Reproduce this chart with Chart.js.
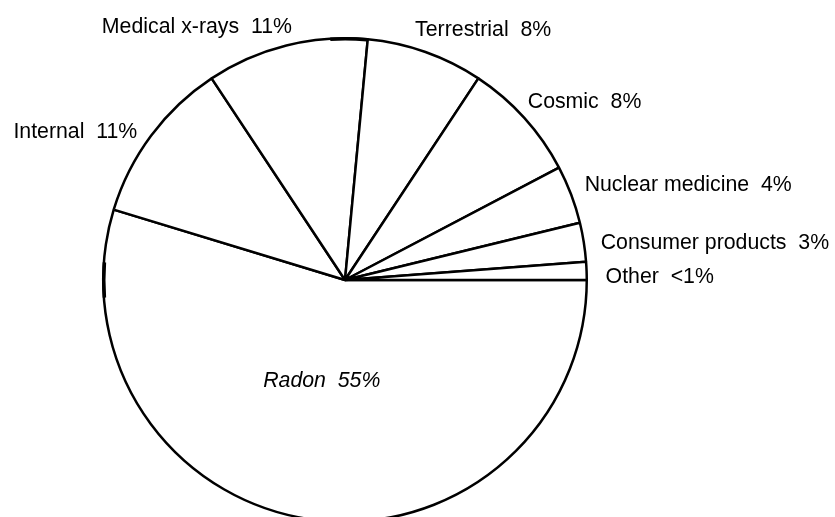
<!DOCTYPE html>
<html>
<head>
<meta charset="utf-8">
<script src="https://cdn.jsdelivr.net/npm/chart.js@4/dist/chart.umd.min.js"></script>
<style>
    html, body { margin: 0; padding: 0; background: #fff; overflow: hidden; }
    #wrap { width: 835px; height: 517px; overflow: hidden; }
</style>
</head>
<body>
<div id="wrap"><canvas id="chartDose" width="835" height="530"></canvas></div>
<script>
// sources of radiation exposure, clockwise from 3 o'clock
const categories = ["Radon", "Internal", "Medical x-rays", "Terrestrial", "Cosmic", "Nuclear medicine", "Consumer products", "Other"];
const shares = [54.7, 11.0, 10.8, 7.8, 8.0, 3.9, 2.6, 1.2];
const shareLabels = ["55%", "11%", "11%", "8%", "8%", "4%", "3%", "<1%"];

(() => {
    // label placement: side, nudge from the anchor just outside the arc
    const labelPos = [
        { inside: true, align: "center", dx: -9, dy: 11 },
        { align: "right", dx: -7.5, dy: 7.5 },
        { align: "right", dx: 7.6, dy: -4.5 },
        { align: "left", dx: -13, dy: -8 },
        { align: "left", dx: -2.5, dy: -4.5 },
        { align: "left", dx: 6, dy: -0.7 },
        { align: "left", dx: 9, dy: 8 },
        { align: "left", dx: 11, dy: 12.4 }
    ];

    const sliceLabels = {
        id: "sliceLabels",
        afterDatasetsDraw(chart) {
            const ctx = chart.ctx;
            const arcs = chart.getDatasetMeta(0).data;
            ctx.save();

            // small thick strokes on the rim, as in the original drawing
            const a0 = arcs[0].getProps(["x", "y", "outerRadius"], true);
            ctx.strokeStyle = "#000";
            ctx.lineWidth = 3.5;
            ctx.beginPath();
            ctx.arc(a0.x, a0.y, a0.outerRadius - 0.5, -93.5 * Math.PI / 180, -84.8 * Math.PI / 180);
            ctx.stroke();
            ctx.beginPath();
            ctx.arc(a0.x, a0.y, a0.outerRadius - 0.5, 175.8 * Math.PI / 180, 184.2 * Math.PI / 180);
            ctx.stroke();

            ctx.fillStyle = "#000";
            ctx.textBaseline = "alphabetic";
            arcs.forEach((arc, i) => {
                const { x, y, startAngle, endAngle, outerRadius } = arc.getProps(["x", "y", "startAngle", "endAngle", "outerRadius"], true);
                const mid = (startAngle + endAngle) / 2;
                const p = labelPos[i];
                const r = p.inside ? outerRadius * 0.4 : outerRadius + 8;
                const ax = x + Math.cos(mid) * r + p.dx;
                const ay = y + Math.sin(mid) * r + p.dy;
                ctx.font = (p.inside ? "italic " : "") + "21.3px 'Liberation Sans', Arial, sans-serif";
                ctx.textAlign = p.align;
                ctx.fillText(categories[i] + "  " + shareLabels[i], ax, ay);
            });
            ctx.restore();
        }
    };

    new Chart(document.getElementById("chartDose"), {
        type: "pie",
        data: {
            labels: categories,
            datasets: [{
                data: shares,
                backgroundColor: "#fff",
                borderColor: "#000",
                borderWidth: 2.5,
                hoverOffset: 0
            }]
        },
        options: {
            responsive: false,
            animation: false,
            rotation: 90,
            layout: { padding: { left: 102, right: 247, top: 37, bottom: 7 } },
            plugins: {
                legend: { display: false },
                tooltip: { enabled: false }
            }
        },
        plugins: [sliceLabels]
    });
})();
</script>
</body>
</html>
